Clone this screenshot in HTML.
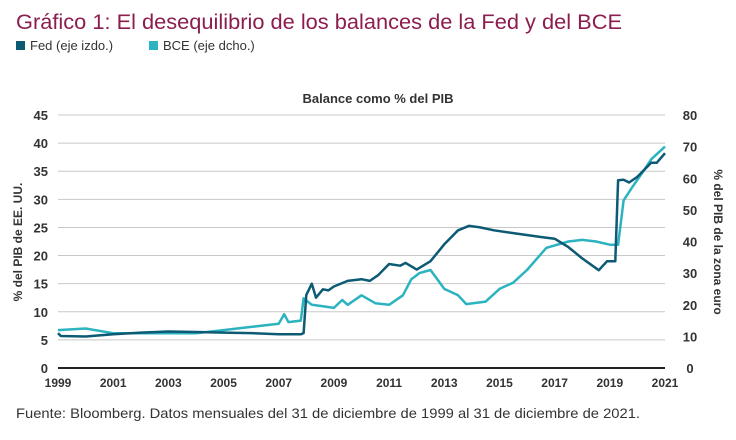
<!DOCTYPE html>
<html><head><meta charset="utf-8"><style>
body{margin:0;background:#fff;font-family:"Liberation Sans",sans-serif;}
#wrap{position:relative;width:736px;height:440px;overflow:hidden;}
</style></head><body>
<div id="wrap">
<svg id="svg" width="736" height="440"></svg>
</div>
<script>
const years=[1999,2001,2003,2005,2007,2009,2011,2013,2015,2017,2019,2021];
const leftTicks=[0,5,10,15,20,25,30,35,40,45];
const rightTicks=[0,10,20,30,40,50,60,70,80];
const fedT=[1999,1999.1,2000,2001,2002,2003,2004,2005,2006,2007,2007.8,2007.9,2008.0,2008.2,2008.35,2008.6,2008.8,2009,2009.5,2010,2010.3,2010.6,2011,2011.4,2011.6,2012,2012.5,2013,2013.5,2013.9,2014.3,2014.8,2015.5,2016.5,2017,2017.5,2018,2018.6,2018.9,2019.2,2019.3,2019.5,2019.7,2020,2020.5,2020.7,2021];
const fedV=[6.2,5.7,5.6,6,6.3,6.5,6.4,6.3,6.2,6.0,6.0,6.2,13,15,12.5,14,13.8,14.5,15.5,15.8,15.5,16.5,18.5,18.2,18.7,17.5,19,22,24.5,25.3,25,24.5,24,23.3,23,21.5,19.5,17.4,19,19,33.4,33.5,33,34,36.5,36.5,38.2];
const ecbT=[1999,2000,2001,2002,2003,2004,2005,2006,2007,2007.2,2007.35,2007.8,2007.9,2008.2,2008.6,2009,2009.3,2009.5,2010,2010.5,2011,2011.5,2011.8,2012.1,2012.5,2013,2013.5,2013.8,2014.5,2015,2015.5,2016,2016.5,2016.7,2017.5,2018,2018.5,2019,2019.3,2019.5,2019.8,2020.2,2020.5,2021];
const ecbV=[12,12.5,11,11,11,11,12,13,14,17,14.5,15,22,20,19.5,19,21.5,20,23,20.5,20,23,28,30,31,25,23,20.2,21,25,27,31,36,38,40,40.5,40,39,39,53,57,62,66,70];

const svg=document.getElementById('svg');
const NS='http://www.w3.org/2000/svg';
const X0=58,X1=665,Y0=368,Y1=115;
const xS=y=>X0+(y-1999)*(X1-X0)/22;
const yL=v=>Y0-v*(Y0-Y1)/45;
const yR=v=>Y0-v*(Y0-Y1)/80;
function mk(tag,attrs,txt){const e=document.createElementNS(NS,tag);for(const k in attrs)e.setAttribute(k,attrs[k]);if(txt!==undefined)e.textContent=txt;svg.appendChild(e);return e;}
let e;
e=mk('text',{x:16,y:29,'font-size':21,fill:'#8c1d4f',textLength:606,lengthAdjust:'spacingAndGlyphs'},'Gráfico 1: El desequilibrio de los balances de la Fed y del BCE');


e=mk('rect',{x:16,y:41,width:9,height:9,fill:'#0d5a75'});


e=mk('text',{x:30,y:50,'font-size':13,fill:'#333'},'Fed (eje izdo.)');


e=mk('rect',{x:149,y:41,width:9,height:9,fill:'#2bb3c0'});


e=mk('text',{x:163,y:50,'font-size':13,fill:'#333'},'BCE (eje dcho.)');


e=mk('text',{x:378,y:103,'font-size':13,'font-weight':'bold',fill:'#333','text-anchor':'middle'},'Balance como % del PIB');


leftTicks.forEach(t=>{
  if(t>0){e=mk('line',{x1:X0,x2:X1,y1:yL(t),y2:yL(t),stroke:'#c8c8c8','stroke-width':1});
  
  }
  e=mk('text',{x:48,y:yL(t)+5,'font-size':13,'font-weight':'bold',fill:'#333','text-anchor':'end'},t);
  
  
});
rightTicks.forEach(t=>{
  e=mk('text',{x:690,y:yR(t)+5,'font-size':13,'font-weight':'bold',fill:'#333','text-anchor':'middle'},t);
  
  
});
years.forEach(yr=>{
  e=mk('text',{x:xS(yr),y:387,'font-size':12,'font-weight':'bold',fill:'#333','text-anchor':'middle'},yr);
  
  
});
e=mk('text',{x:0,y:0,'font-size':12,'font-weight':'bold',fill:'#333','text-anchor':'middle',transform:'translate(22,242) rotate(-90)'},'% del PIB de EE. UU.');


e=mk('text',{x:0,y:0,'font-size':12,'font-weight':'bold',fill:'#333','text-anchor':'middle',transform:'translate(714,242) rotate(90)'},'% del PIB de la zona euro');


function path(T,V,sc){return T.map((t,i)=>(i?'L':'M')+xS(t).toFixed(1)+','+sc(V[i]).toFixed(1)).join(' ');}
e=mk('path',{d:path(ecbT,ecbV,yR),fill:'none',stroke:'#2bb3c0','stroke-width':2.5,'stroke-linejoin':'round'});


e=mk('path',{d:path(fedT,fedV,yL),fill:'none',stroke:'#0d5a75','stroke-width':2.5,'stroke-linejoin':'round'});


e=mk('line',{x1:X0,x2:X1,y1:Y0,y2:Y0,stroke:'#222','stroke-width':2});


e=mk('text',{x:16,y:418,'font-size':14,fill:'#333',textLength:624,lengthAdjust:'spacingAndGlyphs'},'Fuente: Bloomberg. Datos mensuales del 31 de diciembre de 1999 al 31 de diciembre de 2021.');


</script>
</body></html>
